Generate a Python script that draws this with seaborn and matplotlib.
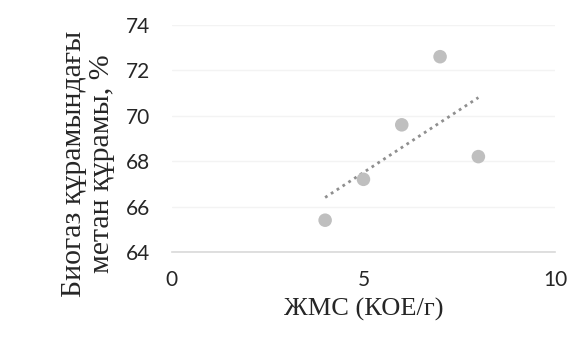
import matplotlib
matplotlib.use("Agg")
import matplotlib.pyplot as plt
import seaborn as sns
import pandas as pd

jms = [4, 5, 6, 7, 8]
methane = [65.4, 67.2, 69.6, 72.6, 68.2]
x_ticks = [0, 5, 10]
y_ticks = [64, 66, 68, 70, 72, 74]

df = pd.DataFrame({"x": jms, "y": methane})

sns.set_theme(style="white")
plt.rcParams['font.family'] = ['Lato', 'DejaVu Sans']

fig = plt.figure(figsize=(5.71, 3.41), dpi=100)
ax = fig.add_axes([0.301, 0.261, 0.671, 0.666])

sns.regplot(data=df, x="x", y="y", ax=ax, ci=None, truncate=True,
            scatter_kws=dict(s=95, color="#bfbfbf", edgecolor="none", alpha=1, zorder=3),
            line_kws=dict(color="#8f8f8f", linestyle=(0, (1, 1.5)), linewidth=2, zorder=2))

ax.set_xlim(0, 10)
ax.set_ylim(64, 74)
ax.set_xticks(x_ticks)
ax.set_yticks(y_ticks)
ax.tick_params(axis='both', labelsize=15, colors="#262626", length=0)
ax.tick_params(axis='x', pad=13)
ax.tick_params(axis='y', pad=16)
ax.grid(axis='y', color="#f3f3f3", linewidth=1)
for s in ["top", "right", "left"]:
    ax.spines[s].set_visible(False)
ax.spines["bottom"].set_color("#d9d9d9")
ax.spines["bottom"].set_linewidth(1.2)

ax.set_xlabel("ЖМС (КОЕ/г)", family=["Liberation Serif"], fontsize=19, color="#262626", labelpad=6)
ax.set_ylabel("Биогаз құрамындағы\nметан құрамы, %", family=["Liberation Serif"], fontsize=21.5,
              color="#262626", linespacing=1.1)
ax.yaxis.set_label_coords(-0.148, 0.39)

fig.savefig("out.png", dpi=100)
